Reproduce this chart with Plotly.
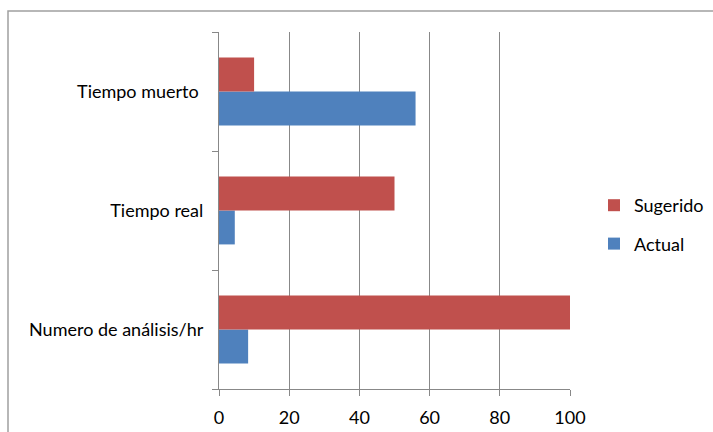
import plotly.graph_objects as go

# Categories listed bottom to top
categorias = ["Numero de análisis/hr", "Tiempo real", "Tiempo muerto\u00a0"]
actual = [8.3, 4.5, 56]
sugerido = [100, 50, 10]
x_ticks = [0, 20, 40, 60, 80, 100]

ROJO = "#C0504D"
AZUL = "#4F81BD"
GRIS = "#888888"
FUENTE = "Lato, Calibri, sans-serif"
TAM = 18

fig = go.Figure()
fig.add_trace(go.Bar(
    y=categorias, x=actual, name="Actual", orientation="h",
    marker=dict(color=AZUL, line=dict(width=0)), legendgroup="a", legendrank=2,
))
fig.add_trace(go.Bar(
    y=categorias, x=sugerido, name="Sugerido", orientation="h",
    marker=dict(color=ROJO, line=dict(width=0)), legendgroup="s", legendrank=1,
))

W, H = 713, 432
L, R, T, B = 219, 570, 32, 389
pw, ph = R - L, B - T

fig.update_layout(
    width=W, height=H,
    margin=dict(l=L, r=W - R, t=T, b=H - B, pad=0, autoexpand=False),
    paper_bgcolor="white", plot_bgcolor="white",
    barmode="group", bargap=0.43, bargroupgap=0,
    font=dict(family=FUENTE, size=TAM, color="#000000"),
    showlegend=True,
    legend=dict(
        x=(594 - L) / pw, y=(B - 187) / ph, xanchor="left", yanchor="top",
        traceorder="grouped", tracegroupgap=12,
        font=dict(family=FUENTE, size=TAM, color="#000000"),
        itemwidth=30, bgcolor="rgba(0,0,0,0)",
    ),
    xaxis=dict(
        range=[0, 100], tickvals=x_ticks, showgrid=True, gridcolor=GRIS, gridwidth=1.2,
        showline=True, linecolor=GRIS, linewidth=1.2,
        ticks="outside", ticklen=6, tickcolor=GRIS, tickwidth=1.2,
        zeroline=False, ticklabelstandoff=6, fixedrange=True,
    ),
    yaxis=dict(
        type="category", tickson="boundaries", showgrid=False,
        showline=True, linecolor=GRIS, linewidth=1.2,
        ticks="outside", ticklen=6, tickcolor=GRIS, tickwidth=1.2,
        ticklabelstandoff=11, zeroline=False, fixedrange=True,
    ),
    shapes=[dict(
        type="rect", xref="paper", yref="paper",
        x0=(8 - L) / pw, x1=(720 - L) / pw,
        y0=(B - 445) / ph, y1=(B - 11) / ph,
        line=dict(color="#A0A0A0", width=1.5), fillcolor="rgba(0,0,0,0)",
        layer="below",
    )],
)

fig.write_html("out.html", config=dict(displayModeBar=False))
